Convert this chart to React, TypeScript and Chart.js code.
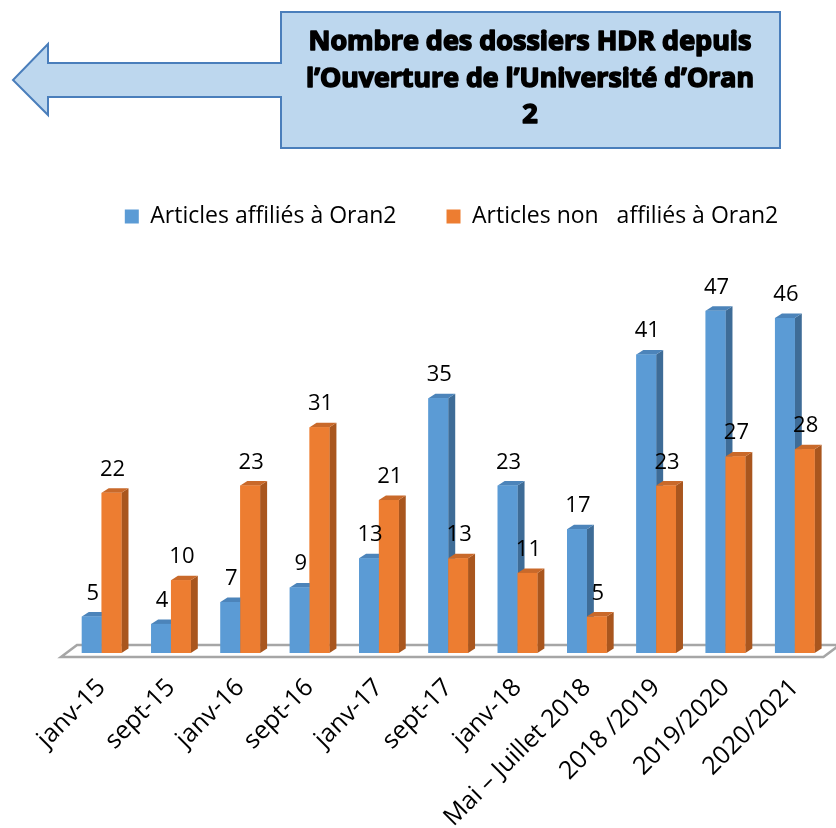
import React, { useEffect, useRef } from "react";
import { Chart, registerables } from "chart.js";

Chart.register(...registerables);

const categories = [
  "janv-15",
  "sept-15",
  "janv-16",
  "sept-16",
  "janv-17",
  "sept-17",
  "janv-18",
  "Mai – Juillet 2018",
  "2018 /2019",
  "2019/2020",
  "2020/2021",
];
const affilies = [5, 4, 7, 9, 13, 35, 23, 17, 41, 47, 46];
const nonAffilies = [22, 10, 23, 31, 21, 13, 11, 5, 23, 27, 28];
const seriesNames = ["Articles affiliés à Oran2", "Articles non   affiliés à Oran2"];
const titleLines = ["Nombre des dossiers HDR depuis", "l’Ouverture de l’Université d’Oran", "2"];

const FRONT = ["#5B9BD5", "#ED7D31"];
const SIDE = ["#3E6C97", "#A9561E"];
const TOP = ["#4C84BA", "#C9692A"];
const DX = 7;
const DY = 4.5;

const titlePlugin = {
  id: "titleCallout",
  beforeDraw(chart: any) {
    const ctx = chart.ctx;
    ctx.save();
    ctx.beginPath();
    ctx.moveTo(281, 12);
    ctx.lineTo(780, 12);
    ctx.lineTo(780, 148);
    ctx.lineTo(281, 148);
    ctx.lineTo(281, 97);
    ctx.lineTo(48, 97);
    ctx.lineTo(48, 115);
    ctx.lineTo(13, 80);
    ctx.lineTo(48, 44);
    ctx.lineTo(48, 63);
    ctx.lineTo(281, 63);
    ctx.closePath();
    ctx.fillStyle = "#BDD7EE";
    ctx.fill();
    ctx.lineWidth = 2;
    ctx.strokeStyle = "#4A7EBB";
    ctx.stroke();
    ctx.fillStyle = "#000";
    ctx.strokeStyle = "#000";
    ctx.lineWidth = 1.6;
    ctx.lineJoin = "round";
    ctx.textAlign = "center";
    ctx.textBaseline = "alphabetic";
    ctx.font = 'bold 27px "Open Sans", sans-serif';
    const baselines = [50, 87, 123];
    const widths = [443, 448, 40];
    titleLines.forEach((t, i) => {
      ctx.fillText(t, 530, baselines[i], widths[i]);
      ctx.strokeText(t, 530, baselines[i], widths[i]);
    });
    ctx.restore();
  },
};

const bar3dPlugin = {
  id: "bar3d",
  beforeDatasetsDraw(chart: any) {
    const ctx = chart.ctx;
    const a = chart.chartArea;
    ctx.save();
    ctx.beginPath();
    ctx.moveTo(a.left - 6, a.bottom + 4);
    ctx.lineTo(a.right - 6, a.bottom + 4);
    ctx.lineTo(a.right + 10, a.bottom - 8);
    ctx.lineTo(a.left + 10, a.bottom - 8);
    ctx.closePath();
    ctx.fillStyle = "#FFFFFF";
    ctx.fill();
    ctx.lineWidth = 2.5;
    ctx.strokeStyle = "#A6A6A6";
    ctx.stroke();
    ctx.restore();
  },
  afterDatasetsDraw(chart: any) {
    const ctx = chart.ctx;
    ctx.save();
    chart.data.datasets.forEach((ds: any, di: number) => {
      const meta = chart.getDatasetMeta(di);
      meta.data.forEach((el: any) => {
        const { x, y, base, width } = el.getProps(["x", "y", "base", "width"], true);
        const l = x - width / 2;
        const r = x + width / 2;
        ctx.fillStyle = SIDE[di];
        ctx.beginPath();
        ctx.moveTo(r, y);
        ctx.lineTo(r + DX, y - DY);
        ctx.lineTo(r + DX, base - DY);
        ctx.lineTo(r, base);
        ctx.closePath();
        ctx.fill();
        ctx.fillStyle = TOP[di];
        ctx.beginPath();
        ctx.moveTo(l, y);
        ctx.lineTo(l + DX, y - DY);
        ctx.lineTo(r + DX, y - DY);
        ctx.lineTo(r, y);
        ctx.closePath();
        ctx.fill();
        ctx.fillStyle = FRONT[di];
        ctx.fillRect(l, y, width, base - y);
      });
    });
    ctx.fillStyle = "#000";
    ctx.font = '22px "Open Sans", sans-serif';
    ctx.textAlign = "center";
    ctx.textBaseline = "alphabetic";
    chart.data.datasets.forEach((ds: any, di: number) => {
      const meta = chart.getDatasetMeta(di);
      meta.data.forEach((el: any, i: number) => {
        const { x, y } = el.getProps(["x", "y"], true);
        ctx.fillText(String(ds.data[i]), x + 1, y - 17);
      });
    });
    ctx.restore();
  },
};

export default function App() {
  const ref = useRef<HTMLCanvasElement | null>(null);
  useEffect(() => {
    document.body.style.margin = "0";
    const canvas = ref.current;
    if (!canvas) return;
    const chart = new Chart(canvas, {
      type: "bar",
      data: {
        labels: categories,
        datasets: [
          { label: seriesNames[0], data: affilies, backgroundColor: FRONT[0] },
          { label: seriesNames[1], data: nonAffilies, backgroundColor: FRONT[1] },
        ],
      },
      options: {
        responsive: false,
        animation: false,
        categoryPercentage: 0.572,
        barPercentage: 1,
        layout: { padding: { top: 155, left: 67, right: 0, bottom: 0 } },
        plugins: {
          title: { display: false },
          tooltip: { enabled: false },
          legend: {
            display: true,
            position: "top",
            labels: {
              boxWidth: 14,
              boxHeight: 14,
              padding: 50,
              color: "#000",
              font: { family: "'Open Sans', sans-serif", size: 23 },
            },
          },
        },
        scales: {
          x: {
            grid: { display: false, drawTicks: false },
            border: { display: false },
            ticks: {
              autoSkip: false,
              minRotation: 45,
              maxRotation: 45,
              padding: 20,
              color: "#000",
              font: { family: "'Open Sans', sans-serif", size: 25 },
            },
            afterFit: (s: any) => {
              s.height = 175;
            },
          },
          y: { display: false, min: 0, max: 57 },
        },
      },
      plugins: [titlePlugin, bar3dPlugin],
    } as any);
    return () => chart.destroy();
  }, []);
  return (
    <div style={{ position: "absolute", left: 0, top: 0, width: 836, height: 828 }}>
      <canvas ref={ref} width={836} height={828} />
    </div>
  );
}
